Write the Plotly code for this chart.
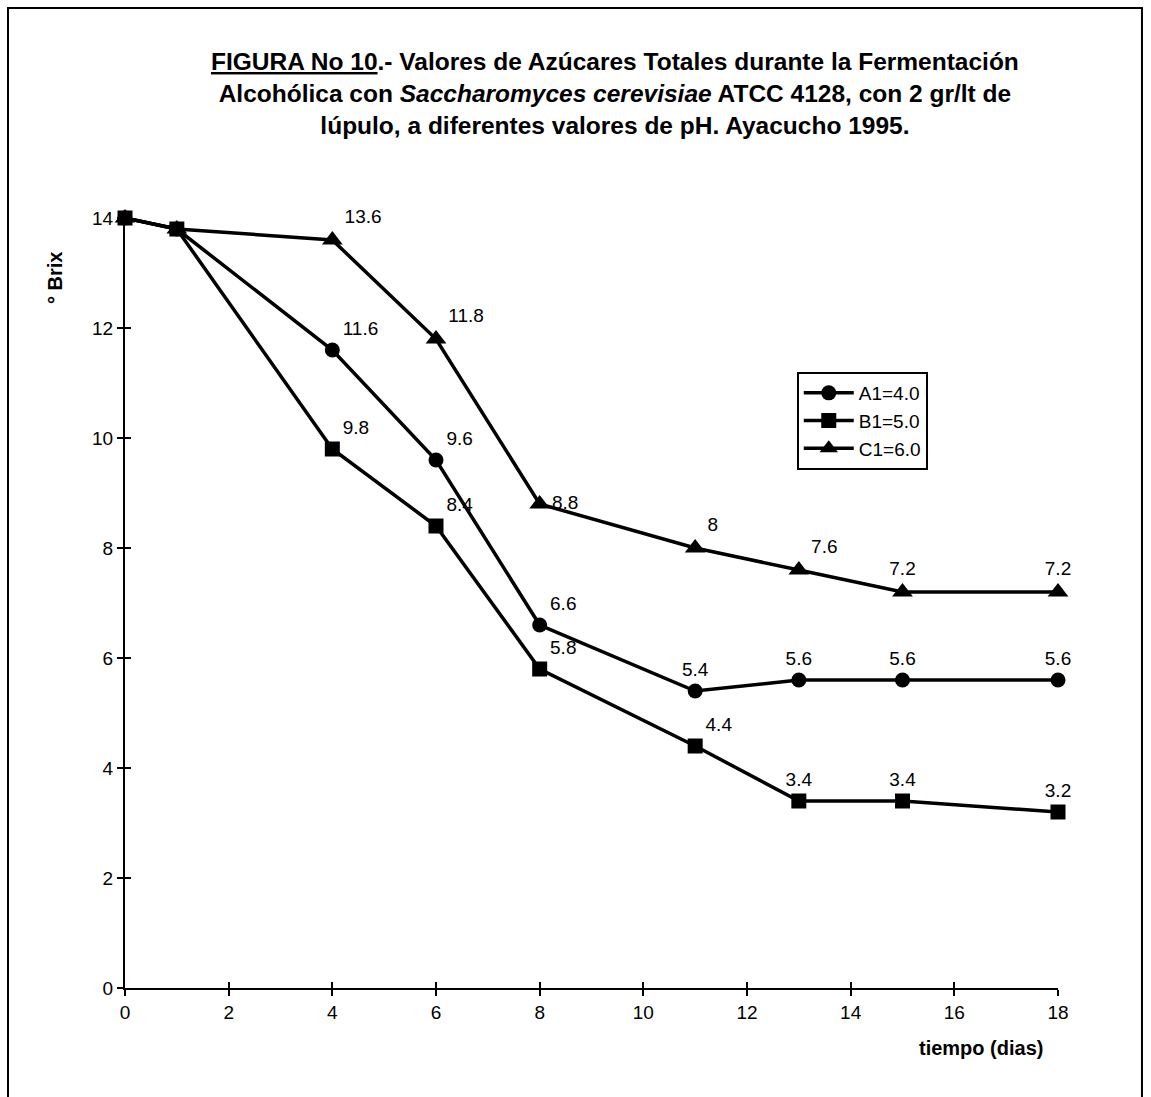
import plotly.graph_objects as go

dias = [0, 1, 4, 6, 8, 11, 13, 15, 18]
a1 = [14, 13.8, 11.6, 9.6, 6.6, 5.4, 5.6, 5.6, 5.6]
b1 = [14, 13.8, 9.8, 8.4, 5.8, 4.4, 3.4, 3.4, 3.2]
c1 = [14, 13.8, 13.6, 11.8, 8.8, 8.0, 7.6, 7.2, 7.2]
names = ["A1=4.0", "B1=5.0", "C1=6.0"]
x_ticks = [0, 2, 4, 6, 8, 10, 12, 14, 16, 18]
y_ticks = [0, 2, 4, 6, 8, 10, 12, 14]

def fmt(v):
    return f"{v:g}"

def labels(vals):
    return ["", ""] + [fmt(v) for v in vals[2:]]

pos_a = ["top center", "top center", "top right", "top right", "top right",
         "top center", "top center", "top center", "top center"]
pos_b = ["top center", "top center", "top right", "top right", "top right",
         "top right", "top center", "top center", "top center"]
pos_c = ["top center", "top center", "top right", "top right", "middle right",
         "top right", "top right", "top center", "top center"]

FONT = "Liberation Sans, Arial, sans-serif"
fig = go.Figure()
series = [(a1, "circle", pos_a, 15), (b1, "square", pos_b, 15), (c1, "triangle-up", pos_c, 18)]
for (vals, sym, pos, sz), nm in zip(series, names):
    fig.add_trace(go.Scatter(
        x=dias, y=vals, name=nm, mode="lines+markers+text",
        line=dict(color="black", width=3.5),
        marker=dict(symbol=sym, size=sz, color="black"),
        text=labels(vals), textposition=pos,
        textfont=dict(family=FONT, size=19, color="black"),
        cliponaxis=False,
    ))

# invisible trace to drive the overlaid axes for the inner half of the crossing ticks
fig.add_trace(go.Scatter(x=[0], y=[0], xaxis="x2", yaxis="y2", mode="markers",
                         marker=dict(opacity=0), showlegend=False, hoverinfo="skip"))

axis_common = dict(showgrid=False, zeroline=False, showline=True, linecolor="black",
                   linewidth=2, ticks="outside", ticklen=6, tickwidth=2, tickcolor="black",
                   tickfont=dict(family=FONT, size=19, color="black"))

fig.update_layout(
    width=1151, height=1097,
    margin=dict(l=125, r=93, t=218, b=109),
    paper_bgcolor="white", plot_bgcolor="white",
    showlegend=True,
    legend=dict(x=0.72, y=0.80, xanchor="left", yanchor="top",
                bordercolor="black", borderwidth=2, bgcolor="white",
                font=dict(family=FONT, size=19, color="black"),
                itemwidth=50, tracegroupgap=0),
    xaxis=dict(range=[0, 18], tickvals=x_ticks, **axis_common),
    yaxis=dict(range=[0, 14], tickvals=y_ticks, **axis_common),
    xaxis2=dict(range=[0, 18], tickvals=x_ticks, overlaying="x", showgrid=False,
                zeroline=False, showticklabels=False, ticks="inside", ticklen=6,
                tickwidth=2, tickcolor="black", side="bottom", anchor="y2"),
    yaxis2=dict(range=[0, 14], tickvals=y_ticks, overlaying="y", showgrid=False,
                zeroline=False, showticklabels=False, ticks="inside", ticklen=6,
                tickwidth=2, tickcolor="black", side="left", anchor="x2"),
)

title = ("<b><u>FIGURA No 10</u>.- Valores de Azúcares Totales durante la Fermentación<br>"
         "Alcohólica con <i>Saccharomyces cerevisiae</i> ATCC 4128, con 2 gr/lt de<br>"
         "lúpulo, a diferentes valores de pH. Ayacucho 1995.</b>")
fig.add_annotation(text=title, xref="paper", yref="paper", x=0.525,
                   y=1.1623, xanchor="center", yanchor="middle", showarrow=False,
                   align="center", font=dict(family=FONT, size=24.5, color="black"))
fig.add_annotation(text="<b>° Brix</b>", xref="paper", yref="paper", x=-0.075, y=0.922,
                   textangle=-90, showarrow=False, xanchor="center", yanchor="middle",
                   font=dict(family=FONT, size=20, color="black"))
fig.add_annotation(text="<b>tiempo (dias)</b>", xref="paper", yref="paper", x=0.9175, y=-0.078,
                   showarrow=False, xanchor="center", yanchor="middle",
                   font=dict(family=FONT, size=20, color="black"))

# outer frame of the figure page
fig.add_shape(type="rect", xref="paper", yref="paper", x0=-0.1254, x1=1.090,
              y0=-0.16, y1=1.2727, line=dict(color="black", width=2))

fig.write_html("out.html")
